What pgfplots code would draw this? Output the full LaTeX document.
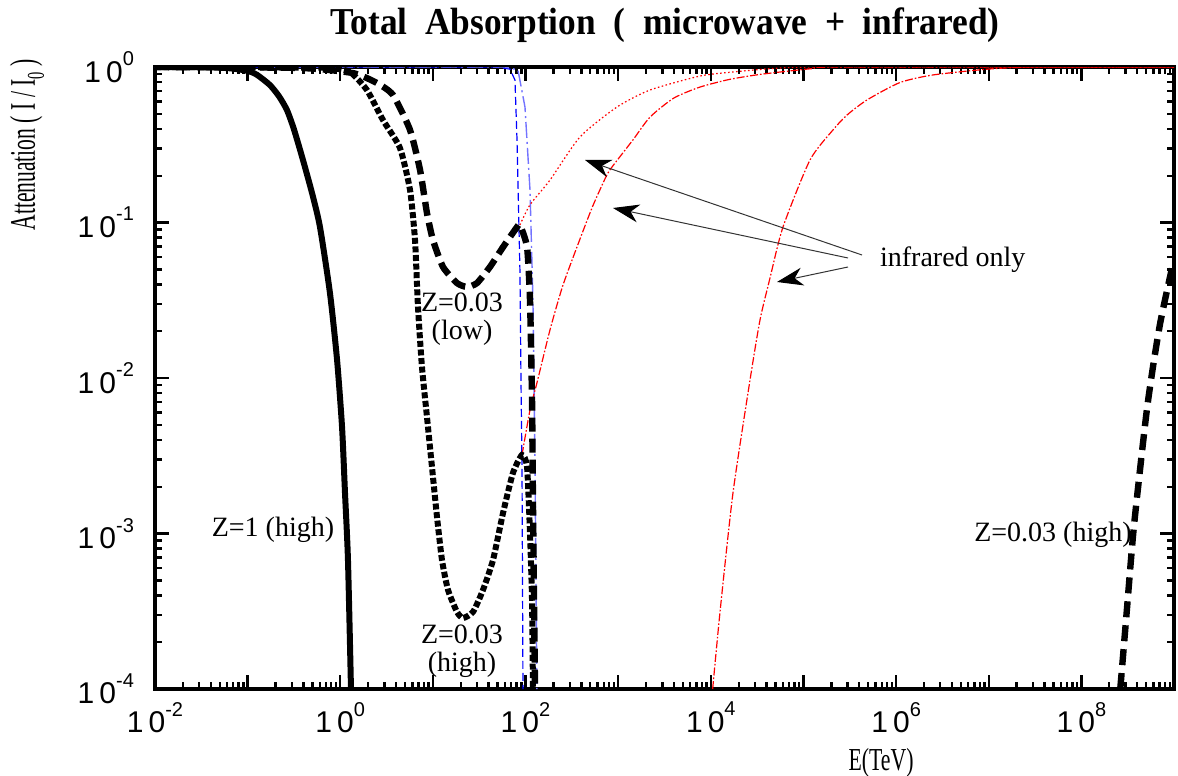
\documentclass[border=0pt]{standalone}
\usepackage{fontspec}
\setmainfont{Liberation Serif}
\newfontfamily\tickfam{Liberation Sans}
\usepackage{pgfplots}
\pgfplotsset{compat=1.18}
\usetikzlibrary{arrows.meta}
\newcommand\tl[1]{1\hspace{0.17em}0\raisebox{0.55em}{\fontsize{10}{10}\selectfont #1}}
\begin{document}
\begin{tikzpicture}
\begin{axis}[
  xmode=log, ymode=log,
  scale only axis, width=509.5pt, height=311pt,
  xmin=1e-2, xmax=1e9, ymin=1e-4, ymax=1,
  xtick={1e-2,1e-1,1,1e1,1e2,1e3,1e4,1e5,1e6,1e7,1e8,1e9},
  xticklabels={\tl{-2},{},\tl{0},{},\tl{2},{},\tl{4},{},\tl{6},{},\tl{8},{}},
  minor xtick={2e-2,3e-2,4e-2,5e-2,6e-2,7e-2,8e-2,9e-2,
    2e-1,3e-1,4e-1,5e-1,6e-1,7e-1,8e-1,9e-1,
    2,3,4,5,6,7,8,9,
    20,30,40,50,60,70,80,90,
    200,300,400,500,600,700,800,900,
    2e3,3e3,4e3,5e3,6e3,7e3,8e3,9e3,
    2e4,3e4,4e4,5e4,6e4,7e4,8e4,9e4,
    2e5,3e5,4e5,5e5,6e5,7e5,8e5,9e5,
    2e6,3e6,4e6,5e6,6e6,7e6,8e6,9e6,
    2e7,3e7,4e7,5e7,6e7,7e7,8e7,9e7,
    2e8,3e8,4e8,5e8,6e8,7e8,8e8,9e8},
  ytick={1e-4,1e-3,1e-2,1e-1,1},
  yticklabels={\tl{-4},\tl{-3},\tl{-2},\tl{-1},\tl{0}},
  minor ytick={2e-4,3e-4,4e-4,5e-4,6e-4,7e-4,8e-4,9e-4,
    2e-3,3e-3,4e-3,5e-3,6e-3,7e-3,8e-3,9e-3,
    2e-2,3e-2,4e-2,5e-2,6e-2,7e-2,8e-2,9e-2,
    2e-1,3e-1,4e-1,5e-1,6e-1,7e-1,8e-1,9e-1},
  tick align=inside,
  major tick length=7pt, minor tick length=3.5pt,
  every tick/.style={black, line width=1.2pt},
  axis line style={line width=2pt},
  tick label style={font=\tickfam\fontsize{15}{15}\selectfont},
  xticklabel style={yshift=-3pt},
  yticklabel style={xshift=-7pt},
]
% blue (microwave) curves
\addplot[blue, line width=0.6pt, dash pattern=on 4pt off 2pt] coordinates {
 (0.01,1) (46.8,1) (67.9,0.970) (76.9,0.824) (80.9,0.340) (87.1,0.0473)
 (89.3,0.0097) (91.6,0.00268) (93.8,1.0e-4)};
\addplot[blue!55, line width=0.7pt, dash pattern=on 8pt off 2pt on 1pt off 2pt] coordinates {
 (0.01,1) (60.0,1) (82.8,0.957) (98.6,0.553) (111.7,0.162) (120.2,0.0318)
 (126.5,0.00268) (132.7,1.0e-4)};
% red (infrared only) curves
\addplot[red, line width=0.6pt, smooth, tension=0.4, dash pattern=on 0.8pt off 1.2pt] coordinates {
 (87.1,0.0964) (111.7,0.130) (183.7,0.1875) (387.3,0.355) (970.5,0.553)
 (2203,0.711) (7638,0.875) (17340,0.929) (55850,0.986) (2.09e5,1) (1e9,1)};
\addplot[red, line width=0.6pt, smooth, tension=0.4, dash pattern=on 4pt off 1pt on 0.8pt off 1pt] coordinates {
 (91.6,0.0032) (112.2,0.00631) (132.7,0.00929) (183.7,0.0204) (251.2,0.0389)
 (358.9,0.0695) (521.2,0.124) (685.5,0.179) (814.7,0.218) (1445,0.340)
 (2203,0.476) (3981,0.631) (7638,0.743) (15850,0.832) (31620,0.891)
 (60120,0.933) (1.259e5,0.977) (2.512e5,1) (1e9,1)};
\addplot[red, line width=0.6pt, smooth, tension=0.4, dash pattern=on 4pt off 1pt on 0.8pt off 1pt] coordinates {
 (1.047e4,1.0e-4) (1.259e4,3.16e-4) (1.734e4,0.00182) (2.649e4,0.0097)
 (3.396e4,0.0236) (4.355e4,0.0440) (6.012e4,0.0935) (1.175e5,0.252)
 (2.084e5,0.394) (2.951e5,0.491) (4.853e5,0.614) (1.096e6,0.794)
 (2.5e6,0.889) (1e7,0.970) (3.16e7,1) (1e9,1)};
% Z=1 (high)
\addplot[black, line width=3pt, smooth, tension=0.4] coordinates {
 (0.01,1) (0.0316,0.998) (0.0631,0.982) (0.1,0.944) (0.126,0.891) (0.174,0.766)
 (0.219,0.646) (0.266,0.528) (0.316,0.398) (0.396,0.252) (0.501,0.151)
 (0.604,0.0935) (0.774,0.0352) (0.923,0.0131) (1.045,0.00484) (1.125,0.00182)
 (1.211,6.76e-4) (1.306,9.86e-5)};
% Z=0.03 (high)
\addplot[black, line width=3pt, smooth, tension=0.35, line cap=butt, dash pattern=on 3pt off 1.3pt] coordinates {
 (0.01,1) (0.1,0.998) (0.316,0.99) (0.774,0.986) (1.274,0.929) (1.941,0.711)
 (2.891,0.456) (4.416,0.301) (5.662,0.162) (6.412,0.0771) (6.902,0.0286)
 (7.621,0.01178) (8.630,0.00561) (9.772,0.00268) (11.07,0.00128) (12.53,6.76e-4)
 (14.55,4.34e-4) (18.20,3.13e-4) (21.13,2.86e-4) (27.10,3.13e-4) (34.75,4.34e-4)
 (44.57,6.76e-4) (57.15,0.001355) (73.11,0.00245) (91.62,0.0032) (103.8,0.00268)
 (111.7,0.001007) (117.5,3.73e-4) (120.2,1.0e-4)};
% Z=0.03 (low)
\addplot[black, line width=3.2pt, smooth, tension=0.35, line cap=butt, dash pattern=on 7pt off 3.5pt] coordinates {
 (0.01,1) (0.367,0.986) (1.371,0.914) (2.489,0.789) (3.707,0.661) (5.662,0.394)
 (7.261,0.218) (8.630,0.115) (10.02,0.0771) (12.85,0.0518) (18.20,0.0408)
 (23.33,0.0385) (29.92,0.0408) (41.30,0.0518) (57.15,0.0695) (80.91,0.0935)
 (87.10,0.0964) (103.8,0.0695) (111.7,0.0318) (117.5,0.00723) (120.2,0.00164)
 (126.5,1.0e-4)};
% Z=0.03 (high), far right
\addplot[black, line width=3.2pt, smooth, tension=0.4, line cap=butt, dash pattern=on 8pt off 4pt] coordinates {
 (2.63e8,1e-4) (3.09e8,3.16e-4) (3.63e8,0.001) (4.37e8,0.00282) (5.13e8,0.00646)
 (6.03e8,0.0126) (7.08e8,0.0224) (8.32e8,0.0355) (9.55e8,0.0513) (1e9,0.055)};
\end{axis}
% annotations (axis south west at origin; 1px = 0.5pt)
\node[font=\bfseries\fontsize{19}{19}\selectfont] at (255pt,332pt)
  {\scalebox{0.93}[1]{Total\ \ Absorption\ \ (\ \ microwave\ \ +\ \ infrared)}};
\node[rotate=90] at (-64pt,272pt)
  {\scalebox{0.6}[1]{\fontsize{18}{19}\selectfont Attenuation ( I / I\raisebox{-0.25em}{\fontsize{12}{12}\selectfont 0} )}};
\node at (363pt,-37pt) {\scalebox{0.68}[1]{\fontsize{16}{17}\selectfont E(TeV)}};
\begin{scope}[font=\fontsize{14}{14}\selectfont]
\node at (59pt,79.5pt) {Z=1 (high)};
\node[align=center, inner sep=0pt] at (153.5pt,185pt) {Z=0.03\\[0pt](low)};
\node[align=center, inner sep=0pt] at (153.5pt,19pt) {Z=0.03\\[0pt](high)};
\node at (449pt,77pt) {Z=0.03 (high)};
\node[anchor=west] at (359pt,214.5pt) {infrared only};
\end{scope}
\begin{scope}[black!80, line width=0.5pt, -{Stealth[length=13pt,width=9pt,inset=4pt,black]}]
\draw (353.5pt,217pt) -- (215pt,264.5pt);
\draw (346.5pt,215.5pt) -- (229pt,240.5pt);
\draw (346.5pt,211pt) -- (311pt,203.5pt);
\end{scope}
\pgfresetboundingbox
\path (-77.5pt,-43.5pt) rectangle (511.5pt,344.5pt);
\end{tikzpicture}
\end{document}
